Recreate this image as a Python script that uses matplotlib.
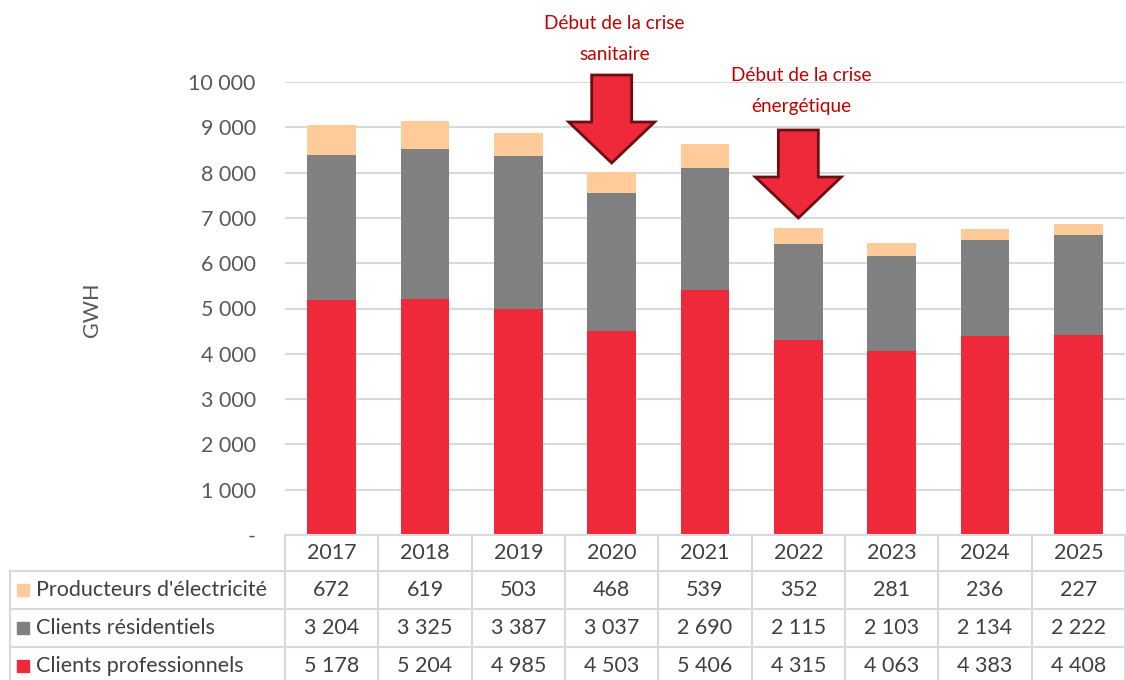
import matplotlib
matplotlib.use("Agg")
import matplotlib.pyplot as plt
from matplotlib.patches import Polygon, Rectangle
from matplotlib.lines import Line2D
import numpy as np

years = ["2017", "2018", "2019", "2020", "2021", "2022", "2023", "2024", "2025"]
producteurs = [672, 619, 503, 468, 539, 352, 281, 236, 227]
residentiels = [3204, 3325, 3387, 3037, 2690, 2115, 2103, 2134, 2222]
professionnels = [5178, 5204, 4985, 4503, 5406, 4315, 4063, 4383, 4408]

series_names = ["Producteurs d'électricité", "Clients résidentiels", "Clients professionnels"]
series_colors = ["#FFCC99", "#808080", "#EE2A3A"]

annotations = [(3, "Début de la crise\nsanitaire"), (5, "Début de la crise\nénergétique")]

plt.rcParams['font.family'] = ['Lato', 'DejaVu Sans']

W, H = 1126, 680
fig = plt.figure(figsize=(W / 100, H / 100), dpi=100)

def fx(px):
    return px / W

def fy(py):
    return 1 - py / H

FS = 15.5

ax_left, ax_right, ax_top, ax_bot = 285, 1125, 82, 535
ax = fig.add_axes([fx(ax_left), fy(ax_bot), fx(ax_right - ax_left), (ax_bot - ax_top) / H])

x = np.arange(len(years))
bw = 0.52
b1 = np.array(professionnels)
b2 = b1 + np.array(residentiels)
ax.bar(x, professionnels, bw, color=series_colors[2], zorder=3)
ax.bar(x, residentiels, bw, bottom=b1, color=series_colors[1], zorder=3)
ax.bar(x, producteurs, bw, bottom=b2, color=series_colors[0], zorder=3)

ax.set_xlim(-0.5, len(years) - 0.5)
ax.set_ylim(0, 10000)
ticks = np.arange(0, 10001, 1000)
ax.set_yticks(ticks)
ax.set_yticklabels(["-" if t == 0 else f"{t:,}".replace(",", " ") for t in ticks],
                   fontsize=FS, color="#595959")
ax.tick_params(axis='y', length=0, pad=21)
ax.set_xticks([])
for s in ax.spines.values():
    s.set_visible(False)
ax.grid(axis='y', color="#D9D9D9", linewidth=1.5, zorder=0)
ax.set_axisbelow(True)

fig.text(fx(92), fy(310), "GWH", rotation=90, ha='center', va='center',
         fontsize=FS, color="#595959")

# Table
grid_c = "#D9D9D9"
col_w = (ax_right - ax_left) / len(years)
rows_y = [535, 571, 609, 647, 685]
lw = 1.5
def hline(x0, x1, y):
    fig.add_artist(Line2D([fx(x0), fx(x1)], [fy(y), fy(y)], color=grid_c, lw=lw))
def vline(xp, y0, y1):
    fig.add_artist(Line2D([fx(xp), fx(xp)], [fy(y0), fy(y1)], color=grid_c, lw=lw))

hline(ax_left, ax_right, rows_y[0])
for y in rows_y[1:4]:
    hline(10, ax_right, y)
for i in range(len(years) + 1):
    vline(ax_left + i * col_w, rows_y[0], H)
vline(10, rows_y[1], H)

for i, yr in enumerate(years):
    cx = ax_left + (i + 0.5) * col_w
    fig.text(fx(cx), fy((rows_y[0] + rows_y[1]) / 2), yr, ha='center', va='center',
             fontsize=FS, color="#404040")

table_data = [producteurs, residentiels, professionnels]
for r, (name, col, vals) in enumerate(zip(series_names, series_colors, table_data)):
    cy = (rows_y[r + 1] + rows_y[r + 2]) / 2
    if r == 2:
        cy = 666
    fig.add_artist(Rectangle((fx(17), fy(cy + 6)), fx(12), 12 / H, color=col,
                             transform=fig.transFigure))
    fig.text(fx(36), fy(cy), name, ha='left', va='center', fontsize=FS, color="#404040")
    for i, v in enumerate(vals):
        cx = ax_left + (i + 0.5) * col_w
        fig.text(fx(cx), fy(cy), f"{v:,}".replace(",", " "), ha='center', va='center',
                 fontsize=FS, color="#404040")

# Arrows and annotation text
arrow_specs = [(75, 122, 163, 22), (130, 177, 218, 74)]
for (idx, label), (top, head, tip, ty) in zip(annotations, arrow_specs):
    cxp = ax_left + (idx + 0.5) * col_w
    bw2, hw2 = 20, 43
    pts = [(cxp - bw2, top), (cxp + bw2, top), (cxp + bw2, head), (cxp + hw2, head),
           (cxp, tip), (cxp - hw2, head), (cxp - bw2, head)]
    fig.add_artist(Polygon([(fx(a), fy(b)) for a, b in pts], closed=True,
                           facecolor="#EE2A3A", edgecolor="#6B0F14", lw=2,
                           transform=fig.transFigure, zorder=5))
    fig.text(fx(cxp + 3), fy(ty + 17), label, ha='center', va='center', fontsize=13.7,
             color="#C00000", linespacing=1.98)

fig.savefig("out.png", dpi=100)
